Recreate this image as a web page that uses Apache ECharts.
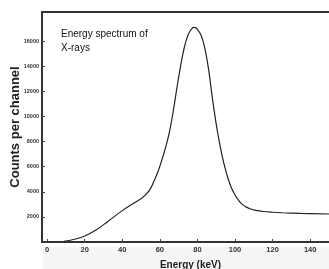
<!DOCTYPE html>
<html>
<head>
<meta charset="utf-8">
<script src="https://cdn.jsdelivr.net/npm/echarts@6/dist/echarts.min.js"></script>
<style>
  html, body { margin: 0; padding: 0; background: #fff; }
  #main { width: 329px; height: 269px; }
</style>
</head>
<body>
<div id="main"></div>
<script>
// spectrum (keV, counts)
var energy = [9, 14, 20, 26, 32, 40, 46, 50, 53, 55, 57, 59, 61, 63, 65, 67, 69, 71, 73, 75, 77, 78.5, 80, 82, 84, 86, 88, 90, 92, 94, 96, 98, 100, 102, 104, 106, 108, 111, 115, 120, 125, 135, 150];
var counts = [60, 200, 480, 950, 1600, 2500, 3080, 3450, 3850, 4250, 4900, 5600, 6500, 7500, 8700, 10300, 12200, 14000, 15500, 16500, 17000, 17100, 16950, 16450, 15400, 13700, 11400, 9400, 7700, 6300, 5200, 4350, 3750, 3300, 2980, 2780, 2650, 2520, 2430, 2370, 2330, 2280, 2230];
var xTicks = [0, 20, 40, 60, 80, 100, 120, 140];
var yTicks = [2000, 4000, 6000, 8000, 10000, 12000, 14000, 16000];

var chart = echarts.init(document.getElementById('main'));
var pts = energy.map(function (e, i) { return [e, counts[i]]; });

chart.setOption({
  animation: false,
  grid: { left: 42, top: 12, right: 0, bottom: 27, outerBoundsMode: 'none', containLabel: false },
  graphic: [
    { type: 'rect', left: 43, top: 247, shape: { width: 286, height: 22 }, style: { fill: '#f5f5f5' }, z: -1 },
    { type: 'text', left: 61, top: 27, style: { text: 'Energy spectrum of\nX-rays', fontSize: 10, lineHeight: 14, fill: '#111', fontFamily: 'Liberation Sans' } }
  ],
  xAxis: [{
    type: 'value', min: -2.7, max: 150,
    name: 'Energy (keV)', nameLocation: 'middle', nameGap: 18, nameMoveOverlap: false,
    nameTextStyle: { fontSize: 10, fontWeight: 'bold', color: '#222', fontFamily: 'Liberation Sans', padding: [0, 0, 0, 10] },
    splitLine: { show: false },
    axisLine: { onZero: false, lineStyle: { color: '#333', width: 2 } },
    axisTick: { inside: true, length: 3, customValues: xTicks, lineStyle: { color: '#444', width: 1 } },
    axisLabel: { customValues: xTicks, fontSize: 7.5, color: '#333', margin: 4, fontFamily: 'Liberation Sans', fontWeight: 'bold' }
  }, {
    type: 'value', position: 'top', min: -2.7, max: 150,
    axisLine: { show: true, onZero: false, lineStyle: { color: '#333', width: 2 } },
    axisTick: { show: false }, axisLabel: { show: false }, splitLine: { show: false }
  }],
  yAxis: {
    type: 'value', min: 0, max: 18330,
    name: 'Counts per channel', nameLocation: 'middle', nameGap: 20, nameMoveOverlap: false,
    nameTextStyle: { fontSize: 13, fontWeight: 'bold', color: '#222', fontFamily: 'Liberation Sans' },
    splitLine: { show: false },
    axisLine: { show: true, onZero: false, lineStyle: { color: '#333', width: 2 } },
    axisTick: { show: true, inside: true, length: 3, customValues: yTicks, lineStyle: { color: '#444', width: 1 } },
    axisLabel: {
      customValues: yTicks, fontSize: 5.5, color: '#333', margin: 3, fontFamily: 'Liberation Sans', fontWeight: 'bold',
      formatter: function (v) { return String(v); }
    }
  },
  series: [{
    type: 'line', xAxisIndex: 0, data: pts, smooth: 0.4, symbol: 'none',
    lineStyle: { color: '#222', width: 1.2 }
  }]
});
</script>
</body>
</html>
